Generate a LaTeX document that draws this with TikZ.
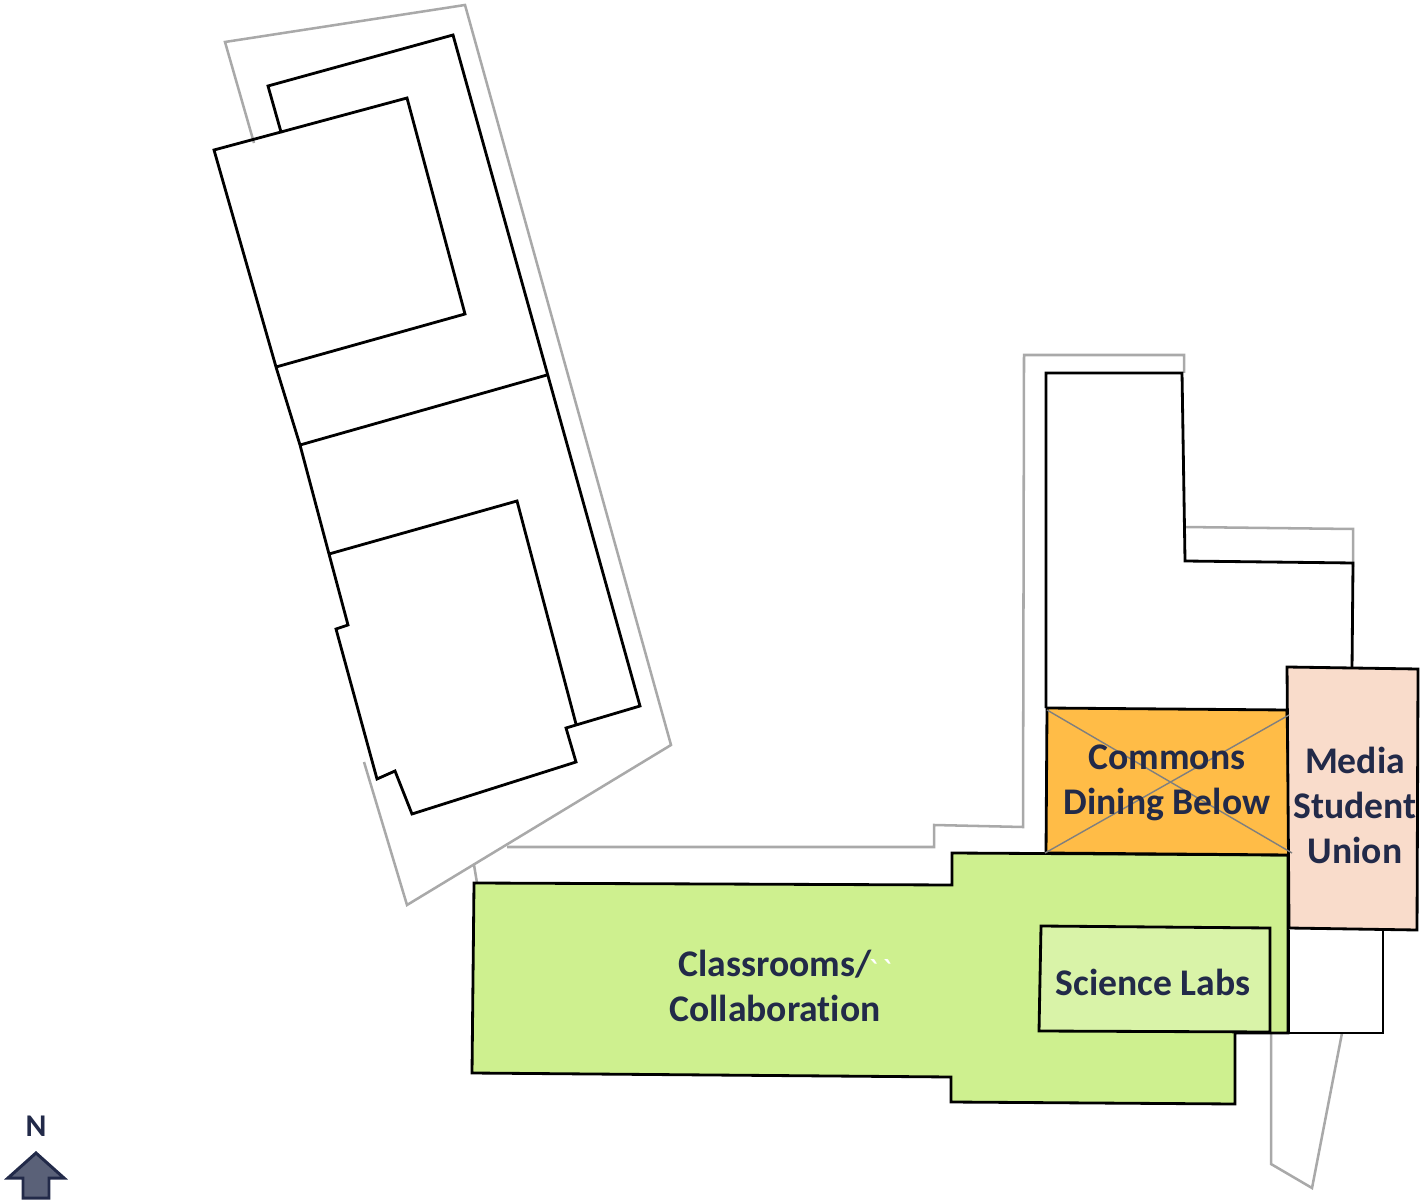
\documentclass[tikz,border=0pt]{standalone}
\usepackage{fontspec}
\setmainfont{Carlito}[Ligatures={NoCommon}]
\newfontfamily\tickfont{Carlito}
\usepackage{tikz}
\usetikzlibrary{positioning}
\definecolor{labelblue}{HTML}{222A49}
\definecolor{plangray}{HTML}{A9A9A9}
\definecolor{crossgray}{HTML}{7F7F7F}
\definecolor{commonsorange}{HTML}{FFBC47}
\definecolor{mediapeach}{HTML}{F9DCCB}
\definecolor{classgreen}{HTML}{CEF08F}
\definecolor{labsgreen}{HTML}{D9F3A8}
\definecolor{arrowfill}{HTML}{5A6178}
\tikzset{
  wall/.style={draw=black, line width=0.8pt, line join=miter},
  site/.style={draw=plangray, line width=0.72pt},
  crossline/.style={draw=crossgray, line width=0.4pt},
  roomlabel/.style={text=labelblue, font=\fontsize{10.7pt}{12.8pt}\selectfont\bfseries, align=center, inner sep=0pt},
}
\begin{document}
\begin{tikzpicture}[x=0.01cm, y=-0.01cm]
  \useasboundingbox (0,0) rectangle (1422,1204);
  % site outlines
  \draw[site] (364,762) -- (407,905) -- (671,745) -- (465,5) -- (225,42) -- (254,143);
  \draw[site] (474,865) -- (477,883);
  \draw[site] (507,847) -- (934,847) -- (934,825) -- (1023,827) -- (1024,355) -- (1184,355) -- (1184,373);
  \draw[site] (1183,527) -- (1353,529) -- (1353,567);
  \draw[site] (1271,1033) -- (1271,1164) -- (1312,1188) -- (1342,1033);
  % west building
  \draw[wall] (214,150) -- (281,132) -- (268,86) -- (453,35) -- (640,706) -- (566,728) -- (576,762) -- (412,814)
    -- (395,771) -- (377,779) -- (336,629) -- (348,625) -- (329,554) -- (300,445) -- (276,367) -- cycle;
  \draw[wall] (281,132) -- (407,98) -- (465,314) -- (276,367);
  \draw[wall] (300,445) -- (547,375);
  \draw[wall] (329,554) -- (517,501) -- (576,724);
  % east building
  \draw[wall] (1046,708) -- (1046,373) -- (1182,373) -- (1185,561) -- (1353,563) -- (1352,668);
  \draw[wall] (1289,930) -- (1289,1033) -- (1383,1033) -- (1383,931);
  % coloured rooms
  \filldraw[wall, fill=classgreen] (474,883) -- (952,885) -- (952,853) -- (1288,855) -- (1288,1033) -- (1235,1033)
    -- (1235,1104) -- (951,1102) -- (951,1077) -- (472,1073) -- cycle;
  \filldraw[wall, fill=labsgreen] (1041,926) -- (1270,928) -- (1270,1032) -- (1039,1031) -- cycle;
  \filldraw[wall, fill=commonsorange] (1047,708) -- (1287,710) -- (1290,855) -- (1046,853) -- cycle;
  \filldraw[wall, fill=mediapeach] (1287,667) -- (1418,669) -- (1417,930) -- (1289,928) -- cycle;
  \draw[crossline] (1047,710) -- (1292,853);
  \draw[crossline] (1045,853) -- (1289,715);
  % room names
  \node[roomlabel] (commons) at (1167,783) {Commons\\Dining Below};
  \node[roomlabel] (media) at (1355,805) {Media\\Student\\Union};
  \node[roomlabel] (classrooms) at (775,986) {Classrooms/\\Collaboration};
  \node[roomlabel] (labs) at (1153,982) {Science Labs};
  \node[text=white, font=\fontsize{10pt}{10pt}\selectfont\tickfont, inner sep=0pt] (ticks) at (880,971) {`\hspace{1pt}`};
  % north arrow
  \node[text=labelblue, font=\fontsize{9pt}{10pt}\selectfont\bfseries, inner sep=0pt] (north) at (36,1126) {N};
  \filldraw[draw=labelblue, fill=arrowfill, line width=0.85pt]
    (36,1153) -- (8,1178) -- (23,1178) -- (23,1198) -- (49,1198) -- (49,1178) -- (64,1178) -- cycle;
\end{tikzpicture}
\end{document}
